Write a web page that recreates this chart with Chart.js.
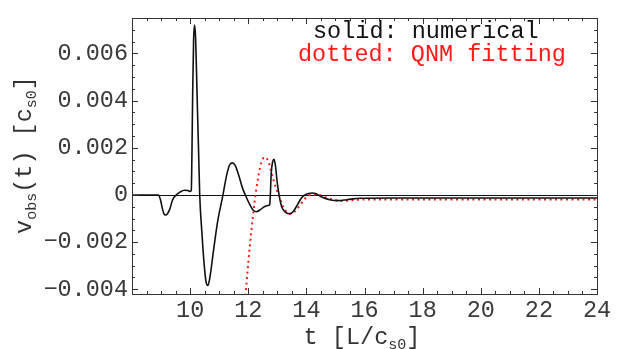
<!DOCTYPE html>
<html>
<head>
<meta charset="utf-8">
<script src="https://cdn.jsdelivr.net/npm/chart.js@4.4.1/dist/chart.umd.min.js"></script>
<style>
  body { margin: 0; background: #fff; }
</style>
</head>
<body>
<canvas id="plot" width="621" height="349"></canvas>
<script>
// numerical signal v_obs(t)
var tNum = [8.0, 8.9, 8.98, 9.04, 9.1, 9.16, 9.22, 9.3, 9.4, 9.52, 9.65, 9.8, 9.92, 10.0, 10.04,
  10.06, 10.09, 10.12, 10.155, 10.19, 10.24, 10.29, 10.33, 10.4, 10.48, 10.55, 10.61, 10.68,
  10.8, 10.95, 11.13, 11.25, 11.35, 11.45, 11.55, 11.68, 11.8, 11.9, 12.05, 12.18, 12.28,
  12.4, 12.55, 12.68, 12.74, 12.76, 12.79, 12.84, 12.89, 12.94, 12.99, 13.06, 13.15, 13.3,
  13.43, 13.55, 13.7, 13.83, 13.95, 14.08, 14.2, 14.35, 14.55, 14.8, 15.1, 15.4, 15.85,
  17, 20, 24];
var vNum = [0, 0, -0.0002, -0.00055, -0.0008, -0.00085, -0.0008, -0.0006, -0.0002, 0, 0.00012, 0.0002, 0.00019, 0.00015, 0.00018,
  0.0015, 0.0045, 0.0066, 0.0072, 0.0066, 0.0042, 0.0019, 0, -0.0015, -0.0029, -0.0037, -0.00384, -0.0035,
  -0.0024, -0.0011, 0, 0.0008, 0.00125, 0.00136, 0.00125, 0.0008, 0.0003, 0, -0.0004, -0.00066, -0.00071,
  -0.00064, -0.0005, -0.00045, -0.0004, 0, 0.0009, 0.0014, 0.00151, 0.0012, 0.0006, 0, -0.0005, -0.00075,
  -0.0008, -0.0007, -0.0004, -0.00013, 0, 0.00006, 0.00008, 0.00004, -0.0001, -0.0002, -0.00024, -0.0002, -0.00014,
  -0.00013, -0.00013, -0.00013];

// QNM fit
var tFit = [11.85, 11.91, 12.0, 12.1, 12.18, 12.25, 12.35, 12.45, 12.57, 12.7, 12.82, 12.95, 13.05,
  13.2, 13.35, 13.48, 13.6, 13.78, 13.95, 14.12, 14.4, 14.7, 15.0, 15.21, 15.5, 16, 20, 24];
var vFit = [-0.0052, -0.0042, -0.0029, -0.0016, -0.0007, 0, 0.0008, 0.00138, 0.0016, 0.0014, 0.00085, 0.0003, 0,
  -0.0005, -0.00075, -0.0008, -0.0007, -0.00044, -0.00016, 0, 0.00001, -0.00012, -0.00022, -0.00026, -0.00023, -0.00019, -0.00019, -0.00019];

var xTicks = [10, 12, 14, 16, 18, 20, 22, 24];
var yTicks = [-0.004, -0.002, 0, 0.002, 0.004, 0.006];

var mono = "'Liberation Mono', 'Courier New', monospace";

function pts(ts, vs) {
  return ts.map(function (t, i) { return { x: t, y: vs[i] }; });
}

// text with subscripts: parts = [[text, isSub], ...]
function subText(ctx, parts, x, y, size, align) {
  var w = 0;
  parts.forEach(function (p) {
    ctx.font = (p[1] ? size * 0.64 : size) + 'px ' + mono;
    w += ctx.measureText(p[0]).width;
  });
  var cx = align === 'center' ? x - w / 2 : x;
  ctx.textAlign = 'left';
  ctx.textBaseline = 'alphabetic';
  parts.forEach(function (p) {
    ctx.font = (p[1] ? size * 0.64 : size) + 'px ' + mono;
    ctx.fillText(p[0], cx, p[1] ? y + size * 0.2 : y);
    cx += ctx.measureText(p[0]).width;
  });
}

var decor = {
  id: 'decor',
  beforeDatasetsDraw: function (chart) {
    var ctx = chart.ctx, a = chart.chartArea, y = chart.scales.y;
    var y0 = Math.round(y.getPixelForValue(0)) + 0.5;
    ctx.save();
    ctx.strokeStyle = '#111';
    ctx.lineWidth = 1;
    ctx.beginPath();
    ctx.moveTo(a.left, y0);
    ctx.lineTo(a.right, y0);
    ctx.stroke();
    ctx.restore();
  },
  afterDraw: function (chart) {
    var ctx = chart.ctx, a = chart.chartArea, xs = chart.scales.x, ys = chart.scales.y;
    ctx.save();
    ctx.strokeStyle = '#333';
    ctx.lineWidth = 1;
    ctx.strokeRect(Math.round(a.left) + 0.5, Math.round(a.top) + 0.5,
      Math.round(a.right - a.left), Math.round(a.bottom - a.top));
    ctx.beginPath();
    var t, v, p, len;
    for (t = 8; t <= 24.001; t += 0.5) {
      p = Math.round(xs.getPixelForValue(t)) + 0.5;
      len = (Math.abs(t / 2 - Math.round(t / 2)) < 1e-6) ? 6 : 3;
      ctx.moveTo(p, a.bottom); ctx.lineTo(p, a.bottom - len);
      ctx.moveTo(p, a.top); ctx.lineTo(p, a.top + len);
    }
    for (v = -0.004; v <= 0.0075; v += 0.0005) {
      p = Math.round(ys.getPixelForValue(v)) + 0.5;
      len = (Math.abs(v / 0.002 - Math.round(v / 0.002)) < 1e-6) ? 6 : 3;
      ctx.moveTo(a.left, p); ctx.lineTo(a.left + len, p);
      ctx.moveTo(a.right, p); ctx.lineTo(a.right - len, p);
    }
    ctx.stroke();

    // legend text
    ctx.font = '23.5px ' + mono;
    ctx.textAlign = 'left';
    ctx.textBaseline = 'alphabetic';
    ctx.fillStyle = '#111';
    ctx.fillText('solid: numerical', 313, 37.5);
    ctx.fillStyle = '#ff1a1a';
    ctx.fillText('dotted: QNM fitting', 298, 60.5);

    // axis titles
    ctx.fillStyle = '#333';
    subText(ctx, [['t [L/c', 0], ['s0', 1], [']', 0]], 362, 344, 23.5, 'center');
    ctx.translate(31, 155);
    ctx.rotate(-Math.PI / 2);
    subText(ctx, [['v', 0], ['obs', 1], ['(t) [c', 0], ['s0', 1], [']', 0]], 0, 0, 23.5, 'center');
    ctx.restore();
  }
};

new Chart(document.getElementById('plot'), {
  type: 'line',
  data: {
    datasets: [
      {
        label: 'numerical',
        data: pts(tNum, vNum),
        borderColor: '#111',
        borderWidth: 1.6,
        pointRadius: 0,
        cubicInterpolationMode: 'monotone'
      },
      {
        label: 'QNM fitting',
        data: pts(tFit, vFit),
        borderColor: '#ff1a1a',
        borderWidth: 2,
        borderDash: [2, 3.5],
        pointRadius: 0,
        cubicInterpolationMode: 'monotone'
      }
    ]
  },
  options: {
    responsive: false,
    animation: false,
    devicePixelRatio: 1,
    layout: { padding: { left: 0, top: 7, right: 24, bottom: 0 } },
    plugins: { legend: { display: false }, tooltip: { enabled: false } },
    scales: {
      x: {
        type: 'linear',
        min: 8,
        max: 24,
        afterBuildTicks: function (s) { s.ticks = xTicks.map(function (v) { return { value: v }; }); },
        afterFit: function (s) { s.height = 55; },
        grid: { display: false, drawTicks: false },
        border: { display: false },
        ticks: { color: '#3a3a3a', padding: 3, maxRotation: 0, font: { family: mono, size: 23.5 } }
      },
      y: {
        type: 'linear',
        min: -0.0042,
        max: 0.0075,
        afterBuildTicks: function (s) { s.ticks = yTicks.map(function (v) { return { value: v }; }); },
        afterFit: function (s) { s.width = 132; },
        grid: { display: false, drawTicks: false },
        border: { display: false },
        ticks: {
          color: '#3a3a3a',
          padding: 4,
          font: { family: mono, size: 23.5 },
          callback: function (v) {
            if (Math.abs(v) < 1e-9) return '0';
            return (v < 0 ? '\u2212' : '') + Math.abs(v).toFixed(3);
          }
        }
      }
    }
  },
  plugins: [decor]
});
</script>
</body>
</html>
